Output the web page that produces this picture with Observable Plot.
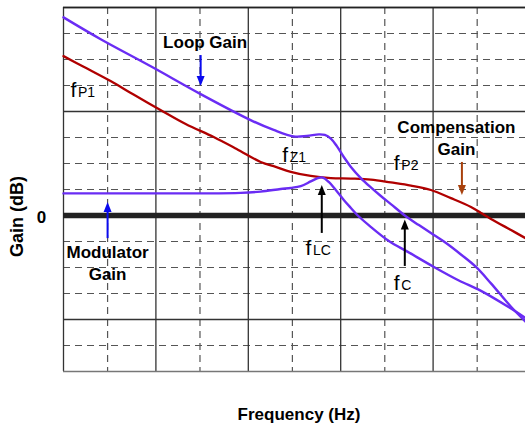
<!DOCTYPE html>
<html>
<head>
<meta charset="utf-8">
<script src="https://cdn.jsdelivr.net/npm/d3@7"></script>
<script src="https://cdn.jsdelivr.net/npm/@observablehq/plot@0.6"></script>
<style>
  html, body { margin: 0; padding: 0; background: #fff; }
  #chart svg { display: block; }
</style>
</head>
<body>
<div id="chart"></div>
<script>
// Bode magnitude of a voltage-mode buck loop: modulator, compensator and loop gain.

// Loop gain (Hz, dB)
const loopFreq = [10, 25, 90, 305, 1060, 1880, 3100, 4300, 5800, 6730, 7820, 9080, 10800, 12900, 16500, 21200, 27200, 34900, 49400, 70200, 102000, 138000, 200000, 291000, 423000, 697000, 1000000];
const loopGain = [76.2, 67.9, 57.2, 46.7, 36.7, 32.9, 30.4, 30.6, 31.2, 31.0, 29.6, 26.7, 22.5, 18.7, 14.4, 10.8, 7.5, 4.4, 0, -3.7, -7.5, -10.6, -15.0, -19.8, -26.1, -35.1, -40.8];

// Modulator (power stage) gain (Hz, dB)
const modFreq = [10, 30, 100, 305, 828, 1360, 2240, 2880, 3700, 4740, 5650, 6400, 7430, 8850, 10800, 12900, 15300, 20100, 33200, 53300, 102000, 190000, 330000, 662000, 1000000];
const modGain = [8.5, 8.5, 8.5, 8.5, 8.7, 9.2, 10.2, 10.6, 11.3, 13.1, 14.4, 14.6, 12.9, 9.8, 6.0, 2.9, 0, -3.7, -9.8, -14.0, -19.8, -25.0, -29.0, -35.3, -39.4];

// Compensation gain (Hz, dB)
const compFreq = [10, 16.5, 32.3, 57.3, 112, 210, 422, 748, 1360, 1980, 2880, 4740, 7820, 12900, 21200, 34900, 57500, 94700, 156000, 257000, 330000, 423000, 697000, 1000000];
const compGain = [61.3, 57.2, 51.7, 46.5, 40.6, 35.2, 30.2, 25.6, 20.6, 18.7, 16.8, 15.2, 14.4, 14.2, 13.8, 12.7, 11.5, 9.8, 6.7, 3.3, 1.0, -1.3, -5.6, -8.7];

// Grid: decades (solid) and 3x points (dashed); gain every 10 dB
const decades = [10, 100, 1000, 10000, 100000];
const thirds = [30, 300, 3000, 30000, 300000];
const majorDb = [80, 40, -40];
const minorDb = [70, 60, 50, 30, 20, 10, -10, -20, -30, -50];
const zeroTick = [0];

// Corner-frequency labels: subscript, frequency and gain of the label baseline
const cornerSub = ["P1", "Z1", "P2", "LC", "C"];
const cornerFreq = [11.9, 2330, 37600, 4160, 37600];
const cornerDb = [45.7, 20.7, 17.5, -15.2, -28.7];

const pts = (fs, gs) => fs.map((f, i) => ({f, g: gs[i]}));
const loop = pts(loopFreq, loopGain);
const mod = pts(modFreq, modGain);
const comp = pts(compFreq, compGain);
const corners = cornerSub.map((s, i) => ({s, f: cornerFreq[i], g: cornerDb[i]}));

// Call-out arrows: x frequency, tail gain, tip gain
const arrows = [
  {f: 305, from: 61.7, to: 49.8, color: "#0a0aee"},
  {f: 30, from: -8.7, to: 5.2, color: "#0a0aee"},
  {f: 205000, from: 20.6, to: 7.9, color: "#a8400c"},
  {f: 6240, from: -6.7, to: 11.7, color: "#000000"},
  {f: 49400, from: -19.4, to: -1.5, color: "#000000"}
].map(d => ({...d, up: d.to > d.from}));

// Filled arrowheads with the tip at the anchor point
const headUp = {draw(ctx) { ctx.moveTo(0, 0); ctx.lineTo(4, 10); ctx.lineTo(-4, 10); ctx.closePath(); }};
const headDown = {draw(ctx) { ctx.moveTo(0, 0); ctx.lineTo(4, -10); ctx.lineTo(-4, -10); ctx.closePath(); }};

const font = "'Liberation Sans', Arial, Helvetica, sans-serif";
const purple = "#6a2cf4";
const red = "#b00000";

const chart = Plot.plot({
  width: 525,
  height: 425,
  marginLeft: 63,
  marginRight: 0,
  marginTop: 7,
  marginBottom: 54,
  style: {fontFamily: font, background: "#fff", color: "#000"},
  x: {type: "log", domain: [10, 1e6], axis: null},
  y: {domain: [-60, 80], axis: null},
  color: {type: "identity"},
  marks: [
    // dashed grid
    Plot.ruleX(thirds, {stroke: "#555", strokeWidth: 1.2, strokeDasharray: "7,5"}),
    Plot.ruleY(minorDb, {stroke: "#555", strokeWidth: 1.2, strokeDasharray: "7,5"}),
    // solid grid and frame
    Plot.ruleX(decades, {stroke: "#333", strokeWidth: 1.3}),
    Plot.ruleY(majorDb, {stroke: "#333", strokeWidth: 1.3}),
    Plot.ruleY([80], {stroke: "#222", strokeWidth: 1.3}),
    Plot.ruleY([-60], {stroke: "#777", strokeWidth: 1.6}),
    // 0 dB reference
    Plot.ruleY(zeroTick, {stroke: "#222", strokeWidth: 5.5}),
    // gain curves
    Plot.line(comp, {x: "f", y: "g", stroke: red, strokeWidth: 2.3, curve: "catmull-rom"}),
    Plot.line(mod, {x: "f", y: "g", stroke: purple, strokeWidth: 2.4, curve: "catmull-rom"}),
    Plot.line(loop, {x: "f", y: "g", stroke: purple, strokeWidth: 2.4, curve: "catmull-rom"}),
    // arrows
    Plot.link(arrows, {x1: "f", x2: "f", y1: "from", y2: d => d.to + (d.up ? -3 : 3), stroke: "color", strokeWidth: 2}),
    Plot.dot(arrows.filter(d => d.up), {x: "f", y: "to", symbol: headUp, fill: "color", stroke: "none"}),
    Plot.dot(arrows.filter(d => !d.up), {x: "f", y: "to", symbol: headDown, fill: "color", stroke: "none"}),
    // curve names
    Plot.text(["Loop Gain"], {x: 341, y: 64.3, text: d => d, fontSize: 17, fontWeight: "bold", textAnchor: "middle", lineAnchor: "bottom", fill: "#000"}),
    Plot.text(["Compensation\nGain"], {x: 178700, y: 23.3, text: d => d, fontSize: 17, fontWeight: "bold", textAnchor: "middle", lineAnchor: "bottom", lineHeight: 1.29, fill: "#000"}),
    Plot.text(["Modulator\nGain"], {x: 30, y: -24.8, text: d => d, fontSize: 17, fontWeight: "bold", textAnchor: "middle", lineAnchor: "bottom", lineHeight: 1.29, fill: "#000"}),
    // corner frequencies
    Plot.text(corners, {x: "f", y: "g", text: () => "f", fontSize: 21, textAnchor: "start", lineAnchor: "bottom", fill: "#000"}),
    Plot.text(corners, {x: "f", y: "g", text: "s", dx: 7.5, fontSize: 14, textAnchor: "start", lineAnchor: "bottom", fill: "#000"}),
    // axes text
    Plot.text(zeroTick, {frameAnchor: "left", y: d => d, text: d => String(d), dx: -22, dy: 7.8, fontSize: 17, fontWeight: "bold", textAnchor: "middle", lineAnchor: "bottom", fill: "#000"}),
    Plot.text(["Gain (dB)"], {frameAnchor: "left", text: d => d, rotate: -90, dx: -41, dy: 27, fontSize: 18, fontWeight: "bold", textAnchor: "middle", lineAnchor: "bottom", fill: "#000"}),
    Plot.text(["Frequency (Hz)"], {frameAnchor: "bottom", text: d => d, dx: 4.5, dy: 48.5, fontSize: 17, fontWeight: "bold", textAnchor: "middle", lineAnchor: "bottom", fill: "#000"})
  ]
});

document.getElementById("chart").appendChild(chart);
</script>
</body>
</html>
